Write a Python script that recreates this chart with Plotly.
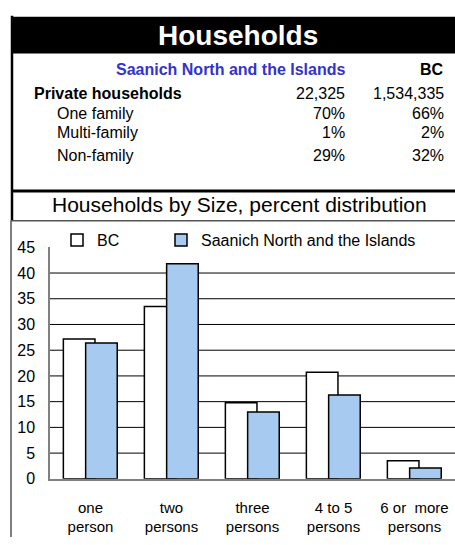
import plotly.graph_objects as go

W, H = 455, 545

# ---- data ----
categories = ["one<br>person", "two<br>persons", "three<br>persons",
              "4 to 5<br>persons", "6 or\u00a0 more<br>persons"]
bc_values = [27.2, 33.5, 14.8, 20.7, 3.5]
sn_values = [26.4, 41.8, 13.0, 16.3, 2.1]
y_ticks = [0, 5, 10, 15, 20, 25, 30, 35, 40, 45]

region_name = "Saanich North and the Islands"
table_rows = ["Private households", "One family", "Multi-family", "Non-family"]
table_sn = ["22,325", "70%", "1%", "29%"]
table_bc = ["1,534,335", "66%", "2%", "32%"]

FONT = "Arial, Liberation Sans, sans-serif"
BLUE_TEXT = "#3333CC"
BAR_BLUE = "#A6CAF0"


def px(x):
    return x / W


def py(y):
    return 1 - y / H


fig = go.Figure()
fig.add_trace(go.Bar(
    x=categories, y=bc_values, name="BC", legend="legend", showlegend=True,
    marker=dict(color="white", line=dict(color="black", width=1.5)),
    width=0.39, offset=-0.335,
))
fig.add_trace(go.Bar(
    x=categories, y=sn_values, name=region_name, legend="legend2", showlegend=True,
    marker=dict(color=BAR_BLUE, line=dict(color="black", width=1.5)),
    width=0.39, offset=-0.06,
))

shapes = []
# header black band
shapes.append(dict(type="rect", xref="paper", yref="paper",
                   x0=px(12), x1=px(456), y0=py(47), y1=py(9),
                   fillcolor="black", line=dict(width=0), layer="above"))
# borders
shapes.append(dict(type="line", xref="paper", yref="paper",
                   x0=px(12), x1=px(12), y0=py(8), y1=py(219),
                   line=dict(color="black", width=2.5)))
shapes.append(dict(type="line", xref="paper", yref="paper",
                   x0=px(11), x1=px(11), y0=py(219), y1=py(546),
                   line=dict(color="#555555", width=1.5)))
shapes.append(dict(type="line", xref="paper", yref="paper",
                   x0=px(12), x1=px(456), y0=py(189), y1=py(189),
                   line=dict(color="black", width=3)))
shapes.append(dict(type="line", xref="paper", yref="paper",
                   x0=px(11), x1=px(456), y0=py(219.5), y1=py(219.5),
                   line=dict(color="#555555", width=1.5)))
# gridlines (no line at the top tick)
for t in y_ticks[1:-1]:
    shapes.append(dict(type="line", xref="x domain", yref="y",
                       x0=0, x1=1, y0=t, y1=t, layer="below",
                       line=dict(color="black", width=1)))

ann = []
ann.append(dict(text="<b>Households</b>", x=px(238), y=py(28), xref="paper", yref="paper",
                showarrow=False, font=dict(family=FONT, size=28, color="white"),
                xanchor="center", yanchor="middle"))
ann.append(dict(text="<b>" + region_name + "</b>", x=px(347), y=py(63), xref="paper", yref="paper",
                showarrow=False, font=dict(family=FONT, size=16, color=BLUE_TEXT),
                xanchor="right", yanchor="middle"))
ann.append(dict(text="<b>BC</b>", x=px(446), y=py(63), xref="paper", yref="paper",
                showarrow=False, font=dict(family=FONT, size=16, color="black"),
                xanchor="right", yanchor="middle"))
row_y = [88, 109, 129, 152]
for i, lab in enumerate(table_rows):
    bold = i == 0
    ann.append(dict(text=("<b>%s</b>" % lab) if bold else lab,
                    x=px(32 if bold else 55), y=py(row_y[i]), xref="paper", yref="paper",
                    showarrow=False, font=dict(family=FONT, size=16, color="black"),
                    xanchor="left", yanchor="middle"))
    ann.append(dict(text=table_sn[i], x=px(347), y=py(row_y[i]), xref="paper", yref="paper",
                    showarrow=False, font=dict(family=FONT, size=16, color="black"),
                    xanchor="right", yanchor="middle"))
    ann.append(dict(text=table_bc[i], x=px(446), y=py(row_y[i]), xref="paper", yref="paper",
                    showarrow=False, font=dict(family=FONT, size=16, color="black"),
                    xanchor="right", yanchor="middle"))
ann.append(dict(text="Households by Size, percent distribution", x=px(239), y=py(203),
                xref="paper", yref="paper", showarrow=False,
                font=dict(family=FONT, size=21, color="black"),
                xanchor="center", yanchor="middle"))

legend_style = dict(orientation="h", xanchor="left", yanchor="top",
                    font=dict(family=FONT, size=16, color="black"),
                    bgcolor="rgba(0,0,0,0)", itemclick=False, itemdoubleclick=False)

fig.update_layout(
    width=W, height=H,
    margin=dict(l=0, r=0, t=0, b=0),
    paper_bgcolor="white", plot_bgcolor="white",
    barmode="overlay",
    hovermode=False,
    showlegend=True,
    font=dict(family=FONT, size=15, color="black"),
    shapes=shapes, annotations=ann,
    legend=dict(x=px(57), y=py(222), **legend_style),
    legend2=dict(x=px(161), y=py(222), **legend_style),
    xaxis=dict(domain=[px(50), 1], showgrid=False, showline=True, linecolor="#808080",
               linewidth=1.5, ticks="", tickfont=dict(family=FONT, size=15, color="black"),
               ticklabelstandoff=14),
    yaxis=dict(domain=[py(486), py(247)], range=[0, 45], tickvals=y_ticks,
               showgrid=False, zeroline=False, showline=True, linecolor="#808080",
               linewidth=1.5, ticks="", tickfont=dict(family=FONT, size=16, color="black"),
               ticklabelstandoff=10),
)

fig.write_html("out.html",
               config={"displayModeBar": False},
               post_script="document.body.style.margin='0';document.body.style.overflow='hidden';")
